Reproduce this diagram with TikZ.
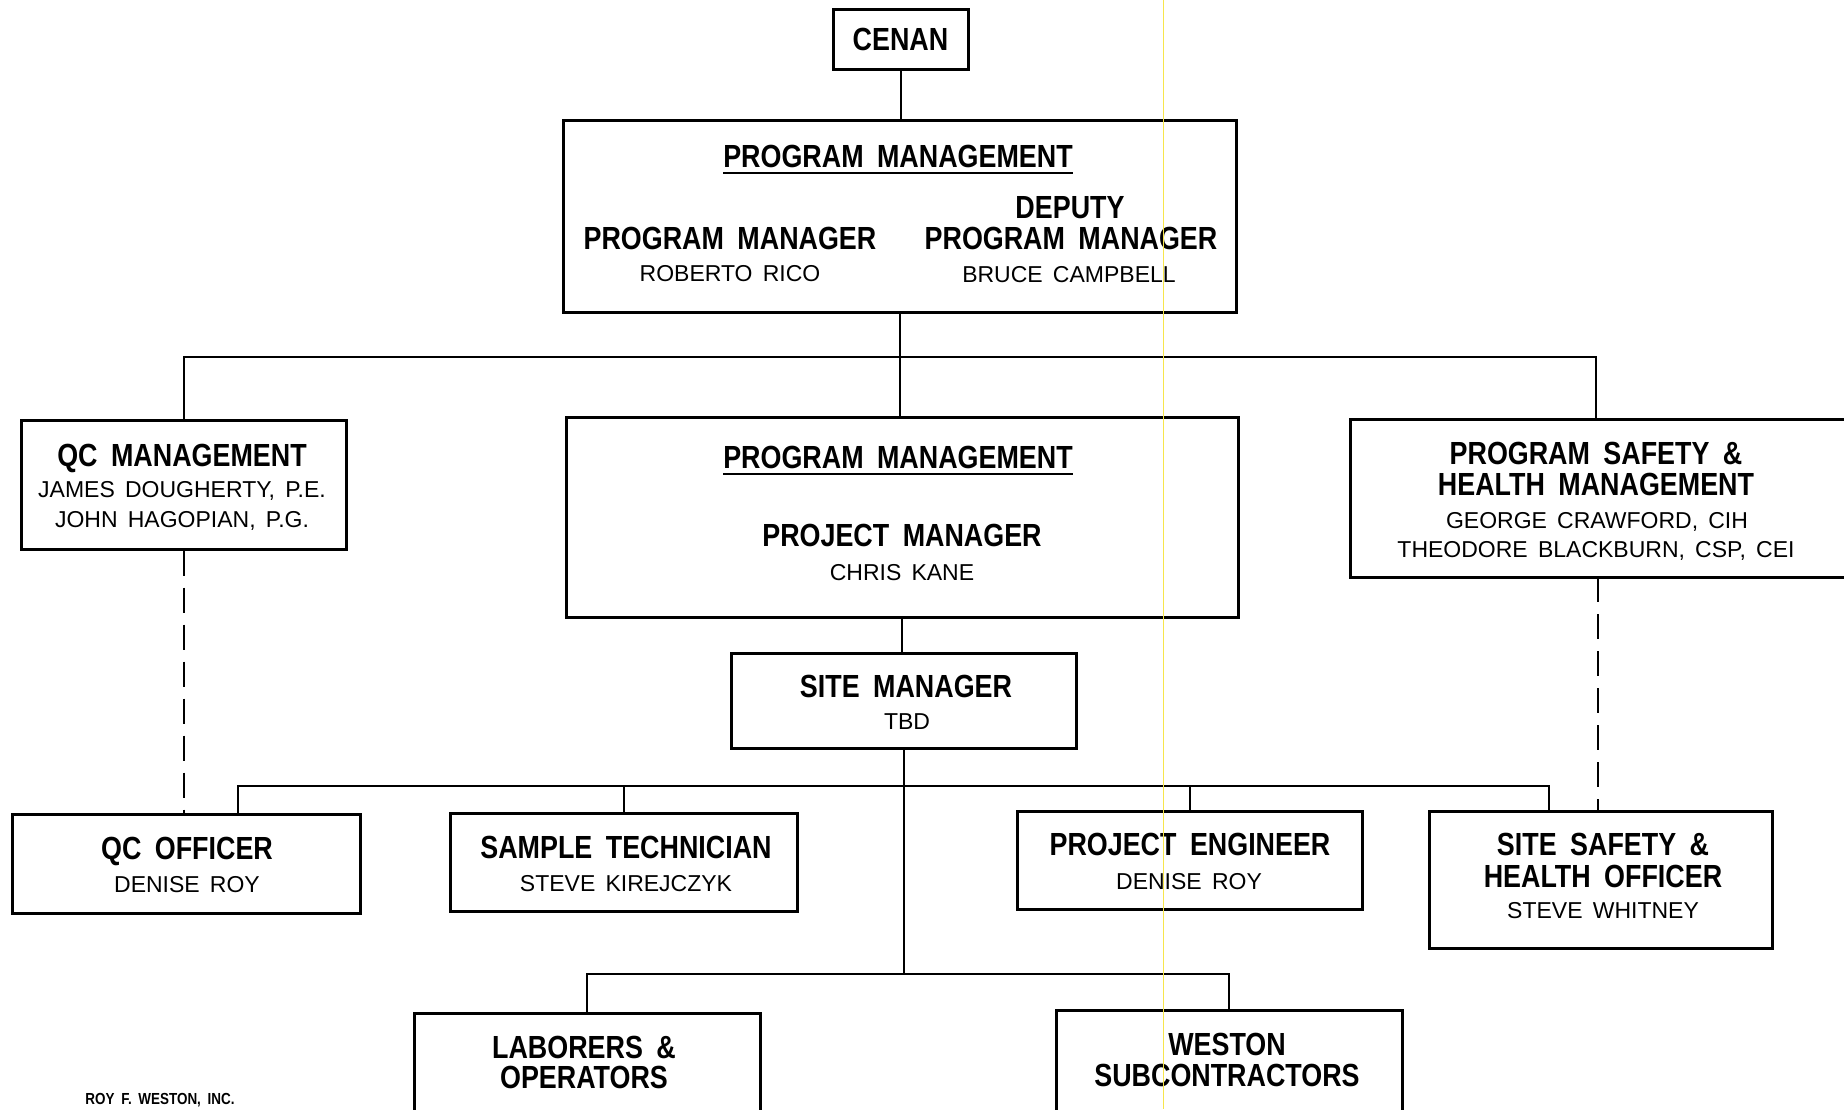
\documentclass[tikz,border=0pt]{standalone}
\usepackage{fontspec}
\setmainfont{Liberation Sans}
\newfontfamily\titlefont[FakeStretch=0.84,WordSpace=1.8]{Liberation Sans}
\newfontfamily\namefont[WordSpace=1.6]{Liberation Sans}
\usetikzlibrary{positioning}
\definecolor{scanyellow}{rgb}{0.97, 0.9, 0.3}

\begin{document}
\begin{tikzpicture}[x=1pt, y=-1pt,
    box/.style={draw, line width=3pt, inner sep=0pt},
    head/.style={font=\titlefont\bfseries\fontsize{32}{36}\selectfont, inner sep=0pt, text height=23pt, text depth=0pt},
    who/.style={font=\namefont\fontsize{23}{26}\selectfont, inner sep=0pt, text height=16.5pt, text depth=0pt},
    link/.style={line width=2pt},
    tie/.style={line width=2pt, dash pattern=on 25pt off 12pt}]
  \useasboundingbox (0,0) rectangle (1844,1109);

  % boxes
  \node[box, head, minimum width=135pt, minimum height=60pt] at (900.5,39) (cenan) {CENAN};
  \node[box, minimum width=673pt, minimum height=192pt] at (899.5,216) (pgm) {};
  \node[box, minimum width=325pt, minimum height=129pt] at (183.5,484.5) (qcm) {};
  \node[box, minimum width=672pt, minimum height=200pt] at (902,517) (prj) {};
  \node[box, minimum width=560pt, minimum height=158pt] at (1630,498) (pshm) {};
  \node[box, minimum width=345pt, minimum height=95pt] at (903.5,700.5) (site) {};
  \node[box, minimum width=348pt, minimum height=99pt] at (186,863.5) (qco) {};
  \node[box, minimum width=347pt, minimum height=98pt] at (623.5,862) (smp) {};
  \node[box, minimum width=345pt, minimum height=98pt] at (1189.5,860) (pe) {};
  \node[box, minimum width=343pt, minimum height=137pt] at (1600.5,879.5) (ssho) {};
  \node[box, minimum width=346pt, minimum height=127pt] at (587,1076.5) (lab) {};
  \node[box, minimum width=346pt, minimum height=130pt] at (1229,1075) (wst) {};

  % program management
  \node[head] at (898,156) (pgmT) {PROGRAM MANAGEMENT};
  \draw[line width=2pt] ([yshift=-5pt]pgmT.south west) -- ([yshift=-5pt]pgmT.south east);
  \node[head] at (730,238) (pmA) {PROGRAM MANAGER};
  \node[who] at (730,273) (pmAn) {ROBERTO RICO};
  \node[head] at (1070,207) (pmB0) {DEPUTY};
  \node[head] at (1071,238) (pmB) {PROGRAM MANAGER};
  \node[who] at (1069,274) (pmBn) {BRUCE CAMPBELL};

  % second row
  \node[head] at (182,455) (qcmT) {QC MANAGEMENT};
  \node[who] at (182,489) (qcmA) {JAMES DOUGHERTY, P.E.};
  \node[who] at (182,519) (qcmB) {JOHN HAGOPIAN, P.G.};

  \node[head] at (898,457) (prjT) {PROGRAM MANAGEMENT};
  \draw[line width=2pt] ([yshift=-5pt]prjT.south west) -- ([yshift=-5pt]prjT.south east);
  \node[head] at (902,535) (prjA) {PROJECT MANAGER};
  \node[who] at (902,572) (prjAn) {CHRIS KANE};

  \node[head] at (1596,453) (pshmT) {PROGRAM SAFETY \&};
  \node[head] at (1596,484) (pshmU) {HEALTH MANAGEMENT};
  \node[who] at (1597,520) (pshmA) {GEORGE CRAWFORD, CIH};
  \node[who] at (1596,549) (pshmB) {THEODORE BLACKBURN, CSP, CEI};

  \node[head] at (906,686) (siteT) {SITE MANAGER};
  \node[who] at (907,721) (siteN) {TBD};

  % third row
  \node[head] at (187,848) (qcoT) {QC OFFICER};
  \node[who] at (187,884) (qcoN) {DENISE ROY};
  \node[head] at (626,847) (smpT) {SAMPLE TECHNICIAN};
  \node[who] at (626,883) (smpN) {STEVE KIREJCZYK};
  \node[head] at (1190,844) (peT) {PROJECT ENGINEER};
  \node[who] at (1189,881) (peN) {DENISE ROY};
  \node[head] at (1603,844) (sshoT) {SITE SAFETY \&};
  \node[head] at (1603,876) (sshoU) {HEALTH OFFICER};
  \node[who] at (1603,910) (sshoN) {STEVE WHITNEY};

  % bottom row
  \node[head] at (584,1047) (labT) {LABORERS \&};
  \node[head] at (584,1077) (labU) {OPERATORS};
  \node[head] at (1227,1044) (wstT) {WESTON};
  \node[head] at (1227,1075) (wstU) {SUBCONTRACTORS};

  \node[head, font=\titlefont\bfseries\fontsize{16}{18}\selectfont, text height=11.5pt] at (160,1099) (firm) {ROY F. WESTON, INC.};

  % connectors
  \coordinate (bus1) at (901,357);
  \coordinate (pshmtap) at (1596,419);
  \coordinate (pshmfoot) at (1598,577);
  \coordinate (bus2) at (903.5,786);
  \coordinate (bus3) at (903.5,974);
  \coordinate (qcotap) at (238,814);
  \coordinate (sshotap) at (1549,811);

  \draw[link] (cenan.south) -- (cenan.south |- pgm.north);
  \draw[link] (pgm.south) -- (pgm.south |- prj.north);
  \draw[link] (qcm.north) |- (bus1) -| (pshmtap);
  \draw[link] (prj.south) -- (prj.south |- site.north);
  \draw[link] (site.south) -- (bus3);
  \draw[link] (qcotap) |- (bus2) -| (sshotap);
  \draw[link] (smp.north) -- (smp.north |- bus2);
  \draw[link] (pe.north) -- (pe.north |- bus2);
  \draw[link] (lab.north) |- (bus3) -| (wst.north);
  \draw[tie] (qcm.south) -- (qcm.south |- qco.north);
  \draw[tie] (pshmfoot) -- (pshmfoot |- ssho.north);

  % scan streak
  \draw[scanyellow, line width=1pt] (1163,0) -- (1163,1109);
\end{tikzpicture}
\end{document}
